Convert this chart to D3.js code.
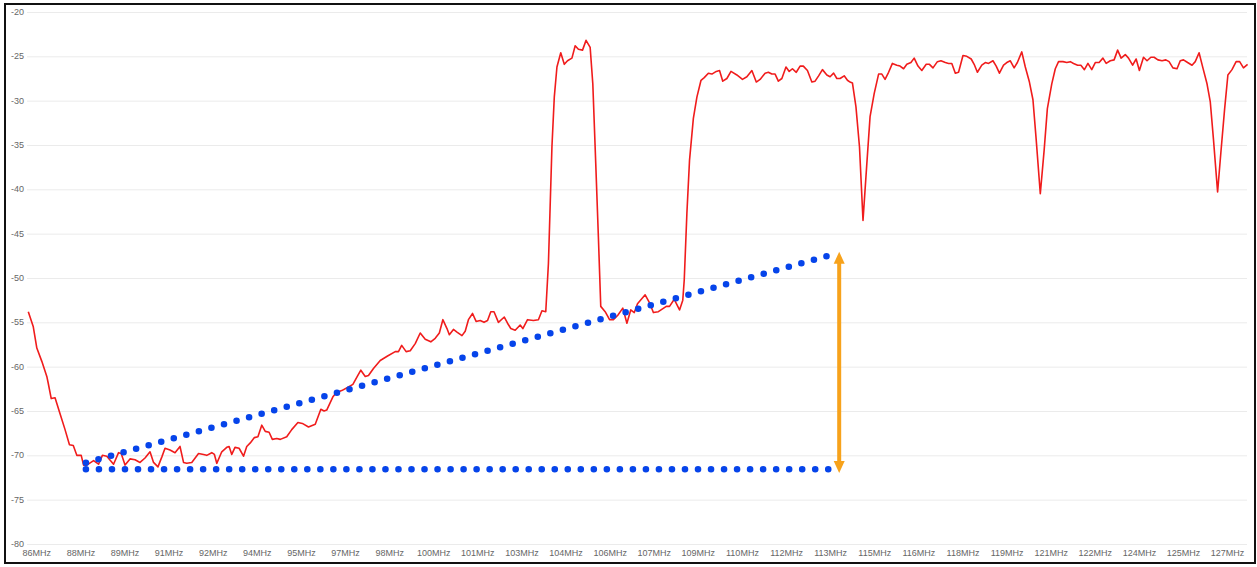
<!DOCTYPE html>
<html><head><meta charset="utf-8">
<script src="https://cdn.jsdelivr.net/npm/d3@7"></script>
<style>body{margin:0;background:#fff}svg{display:block}</style>
</head><body><svg id="c" width="1257" height="567"></svg>
<script>
// Spectrum measurement (MHz, dBm)
const freqMHz = [
85.71,85.88,86.00,86.17,86.34,86.39,86.49,86.62,86.79,86.96,
87.11,87.24,87.36,87.51,87.59,87.70,87.93,88.10,88.23,88.38,
88.61,88.78,88.87,89.00,89.17,89.34,89.51,89.68,89.85,89.97,
90.12,90.25,90.36,90.53,90.70,90.87,90.99,91.10,91.27,91.50,
91.67,91.78,91.95,92.04,92.12,92.29,92.46,92.54,92.63,92.74,
92.88,93.03,93.14,93.26,93.40,93.52,93.65,93.77,93.90,94.01,
94.16,94.28,94.50,94.67,94.88,95.03,95.24,95.47,95.66,95.77,
95.86,96.07,96.20,96.37,96.60,96.75,96.90,97.02,97.17,97.28,
97.45,97.68,97.93,98.19,98.30,98.41,98.56,98.70,98.87,99.04,
99.21,99.40,99.55,99.69,99.81,99.95,100.03,100.17,100.29,100.46,
100.57,100.68,100.82,100.94,101.08,101.21,101.33,101.44,101.55,101.70,
101.90,102.01,102.12,102.27,102.44,102.53,102.69,102.89,103.06,103.18,
103.31,103.40,103.52,103.60,103.69,103.82,103.94,104.05,104.20,104.31,
104.42,104.56,104.68,104.82,104.91,105.01,105.10,105.18,105.33,105.48,
105.61,105.76,105.93,106.07,106.20,106.32,106.43,106.69,106.84,106.97,
107.14,107.41,107.52,107.68,107.86,107.97,108.02,108.11,108.20,108.33,
108.45,108.59,108.70,108.84,108.96,109.11,109.22,109.33,109.47,109.61,
109.81,110.00,110.15,110.32,110.47,110.60,110.77,110.88,111.00,111.11,
111.22,111.34,111.48,111.59,111.70,111.83,111.96,112.07,112.21,112.36,
112.47,112.59,112.72,112.87,112.98,113.10,113.21,113.32,113.46,113.57,
113.66,113.74,113.86,113.98,114.10,114.23,114.34,114.48,114.63,114.74,
114.85,114.97,115.10,115.25,115.36,115.48,115.59,115.73,115.84,115.97,
116.10,116.25,116.36,116.48,116.63,116.75,116.90,117.01,117.12,117.24,
117.35,117.50,117.63,117.78,117.88,117.99,118.14,118.26,118.37,118.52,
118.63,118.74,118.88,118.99,119.11,119.24,119.35,119.50,119.62,119.76,
119.88,119.99,120.13,120.26,120.37,120.52,120.64,120.75,120.90,121.03,
121.15,121.26,121.40,121.51,121.63,121.75,121.88,122.00,122.13,122.26,
122.37,122.51,122.64,122.76,122.88,123.02,123.13,123.27,123.39,123.50,
123.64,123.76,123.89,124.00,124.13,124.27,124.40,124.51,124.64,124.78,
124.89,125.00,125.14,125.29,125.40,125.53,125.66,125.80,125.91,126.02,
126.16,126.27,126.40,126.51,126.65,126.79,126.91,127.04,127.18
];
const levelDbm = [
-53.8,-55.5,-57.9,-59.4,-61.1,-61.9,-63.6,-63.5,-65.3,-67.1,
-68.8,-68.9,-70.0,-70.0,-71.1,-71.1,-70.6,-71.0,-70.0,-70.1,
-71.0,-69.7,-69.8,-71.1,-70.4,-70.5,-70.8,-70.3,-69.6,-70.8,
-71.3,-70.2,-69.2,-69.4,-69.7,-69.0,-70.8,-70.9,-70.8,-69.8,
-69.9,-70.0,-69.7,-69.9,-70.9,-69.6,-69.1,-69.0,-69.9,-69.1,
-69.2,-70.1,-69.0,-68.6,-68.0,-67.9,-66.6,-67.3,-67.4,-68.2,
-68.1,-68.2,-67.9,-67.1,-66.3,-66.4,-66.8,-66.5,-64.8,-65.0,
-64.9,-63.4,-62.9,-62.7,-62.3,-62.0,-61.1,-60.4,-61.1,-61.0,
-60.2,-59.3,-58.8,-58.3,-58.3,-57.6,-58.3,-58.2,-57.4,-56.2,
-56.9,-57.2,-56.8,-56.2,-54.7,-55.7,-56.4,-55.8,-56.1,-56.5,
-56.0,-54.7,-54.0,-54.9,-54.8,-55.0,-54.8,-53.8,-53.8,-55.0,
-54.4,-55.1,-55.7,-55.9,-55.3,-55.7,-54.7,-54.8,-54.7,-53.7,
-53.8,-48.4,-35.2,-29.6,-26.2,-24.6,-25.9,-25.5,-25.2,-23.8,
-24.2,-24.3,-23.2,-24.0,-28.1,-37.1,-45.4,-53.2,-53.8,-54.7,
-54.7,-54.2,-53.4,-55.1,-53.6,-53.9,-52.9,-51.9,-52.8,-53.9,
-53.8,-53.2,-53.2,-52.4,-53.6,-52.5,-50.2,-42.7,-36.7,-32.0,
-29.6,-27.7,-27.4,-26.9,-27.0,-26.7,-26.6,-27.8,-27.5,-26.7,
-27.1,-27.6,-27.3,-26.6,-27.9,-27.6,-26.9,-26.8,-27.0,-27.0,
-27.8,-27.5,-26.2,-26.7,-26.4,-26.8,-26.1,-26.1,-26.6,-27.9,
-27.8,-27.2,-26.5,-27.1,-27.3,-26.9,-27.5,-27.5,-27.2,-27.7,
-27.9,-28.0,-30.7,-35.2,-43.5,-37.1,-31.8,-29.2,-27.0,-27.0,
-27.6,-26.8,-25.8,-26.0,-26.1,-26.4,-25.9,-25.7,-25.2,-26.1,
-26.6,-25.9,-25.9,-26.3,-25.6,-25.5,-25.7,-25.8,-25.8,-26.9,
-26.8,-24.9,-25.0,-25.3,-25.9,-26.8,-26.0,-25.7,-25.8,-25.5,
-26.1,-26.9,-26.0,-25.7,-25.5,-26.3,-25.7,-24.5,-26.2,-27.9,
-29.9,-34.4,-40.5,-35.6,-30.9,-28.1,-26.4,-25.6,-25.6,-25.7,
-25.6,-25.8,-26.0,-26.0,-26.5,-25.8,-26.5,-25.7,-25.7,-25.2,
-25.8,-25.5,-25.4,-24.3,-25.2,-24.8,-25.2,-26.0,-25.3,-26.6,
-25.1,-25.5,-25.1,-25.1,-25.4,-25.5,-25.4,-25.6,-26.3,-26.4,
-25.5,-25.4,-25.7,-26.0,-25.6,-24.6,-26.3,-28.1,-30.1,-34.4,
-40.3,-35.9,-30.9,-27.1,-26.5,-25.6,-25.6,-26.3,-25.9
];
const yTicks = [-20,-25,-30,-35,-40,-45,-50,-55,-60,-65,-70,-75,-80];
const xTickValues = [86,87.5,89,90.5,92,93.5,95,96.5,98,99.5,101,102.5,104,105.5,107,108.5,110,111.5,113,114.5,116,117.5,119,120.5,122,123.5,125,126.5];
const xTickLabels = ["86MHz","88MHz","89MHz","91MHz","92MHz","94MHz","95MHz","97MHz","98MHz","100MHz","101MHz","103MHz","104MHz","106MHz","107MHz","109MHz","110MHz","112MHz","113MHz","115MHz","116MHz","118MHz","119MHz","121MHz","122MHz","124MHz","125MHz","127MHz"];
// Annotations (MHz, dBm)
const slopeLine = [[87.67,-70.83],[112.87,-47.53]];
const floorLine = [[87.67,-71.57],[112.93,-71.57]];
const arrowSpan = [[113.29,-47.04],[113.29,-72.0]];

const svg = d3.select("#c");
const W = 1257, H = 567;
const x = d3.scaleLinear().domain([85.70, 127.16]).range([28, 1247]);
const y = d3.scaleLinear().domain([-80, -20]).range([544, 12]);
const font = "'Liberation Sans', Arial, Helvetica, sans-serif";

svg.append("rect").attr("width", W).attr("height", H).attr("fill", "#fff");

// grid
svg.append("g").selectAll("line").data(yTicks).join("line")
  .attr("x1", 27).attr("x2", 1247)
  .attr("y1", d => y(d) + 0.5).attr("y2", d => y(d) + 0.5)
  .attr("stroke", "#ebebeb").attr("stroke-width", 1);

// y labels
svg.append("g").selectAll("text").data(yTicks).join("text")
  .attr("x", 11).attr("y", d => y(d)).attr("dy", "0.35em")
  .attr("font-family", font).attr("font-size", 9).attr("fill", "#666")
  .text(d => d);

// x labels
svg.append("g").selectAll("text").data(xTickValues).join("text")
  .attr("x", d => x(d)).attr("y", 553).attr("dy", "0.35em")
  .attr("text-anchor", "middle")
  .attr("font-family", font).attr("font-size", 9).attr("fill", "#666")
  .text((d, i) => xTickLabels[i]);

// spectrum line
const series = freqMHz.map((f, i) => [f, levelDbm[i]]);
svg.append("path").datum(series)
  .attr("fill", "none").attr("stroke", "#f01c1c").attr("stroke-width", 1.6)
  .attr("stroke-linejoin", "round")
  .attr("d", d3.line().x(d => x(d[0])).y(d => y(d[1])));

// dotted blue lines (dots evenly spaced, one at each end)
const ln = d3.line().x(d => x(d[0])).y(d => y(d[1]));
[floorLine, slopeLine].forEach(pts => {
  const p = svg.append("path").datum(pts)
    .attr("fill", "none").attr("stroke", "#0644ea").attr("stroke-width", 6.6)
    .attr("stroke-linecap", "round")
    .attr("d", ln);
  const L = p.node().getTotalLength();
  const gap = (L / Math.round(L / 13.05)) * 0.9995;
  p.attr("stroke-dasharray", `0,${gap}`);
});

// orange double arrow
const ax = x(arrowSpan[0][0]), ay1 = y(arrowSpan[0][1]), ay2 = y(arrowSpan[1][1]);
const orange = "#f7a21b";
svg.append("line").attr("x1", ax).attr("x2", ax).attr("y1", ay1 + 10).attr("y2", ay2 - 10)
  .attr("stroke", orange).attr("stroke-width", 4);
svg.append("path").attr("fill", orange)
  .attr("d", `M${ax},${ay1}L${ax - 5.5},${ay1 + 12}L${ax + 5.5},${ay1 + 12}Z`);
svg.append("path").attr("fill", orange)
  .attr("d", `M${ax},${ay2}L${ax - 5.5},${ay2 - 12}L${ax + 5.5},${ay2 - 12}Z`);

// frame
svg.append("rect").attr("x", 5).attr("y", 4).attr("width", 1250).attr("height", 559)
  .attr("fill", "none").attr("stroke", "#111").attr("stroke-width", 2);
</script>
</body></html>
